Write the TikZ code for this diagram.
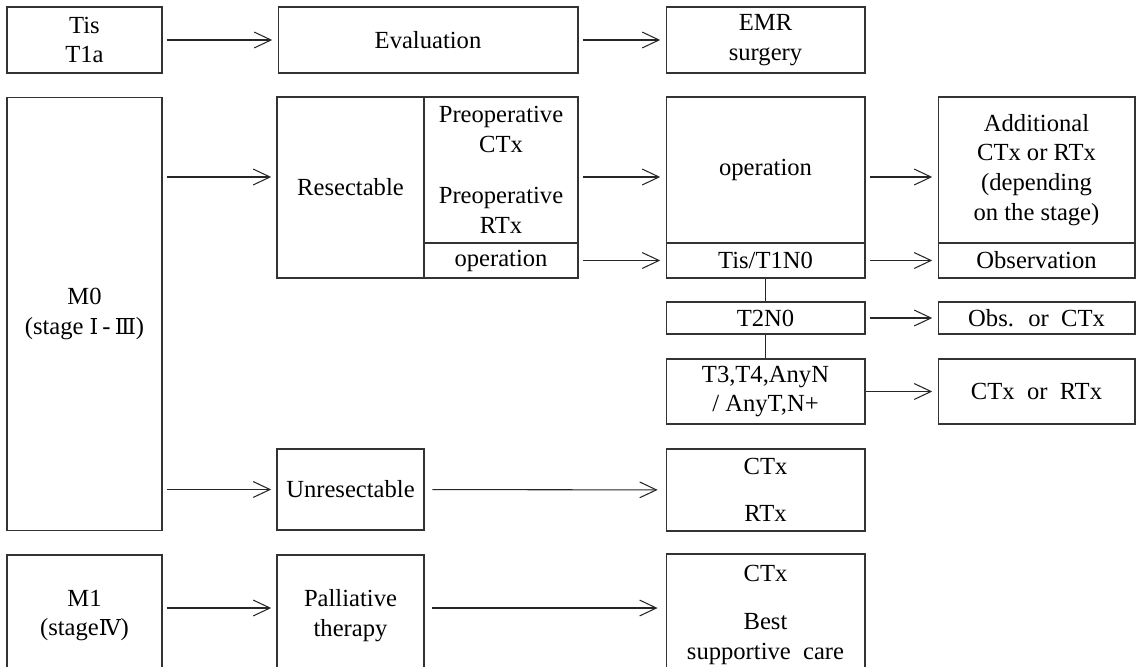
\documentclass[tikz,border=0pt]{standalone}
\usepackage{fontspec}
\setmainfont{Liberation Serif}
\newfontfamily\romfont{DejaVu Serif}
\usetikzlibrary{arrows.meta}
\newcommand{\rnum}[1]{{\romfont\fontsize{12.5}{14}\selectfont #1}}

\begin{document}
\begin{tikzpicture}[x=0.02cm, y=-0.02cm,
        box/.style={rectangle, draw=black!80, line width=0.6pt, inner sep=1pt,
                    align=center, font=\fontsize{14}{17}\selectfont},
        colA/.style={minimum width=3.1cm},
        colB/.style={minimum width=2.94cm},
        colC/.style={minimum width=3.08cm},
        colD/.style={minimum width=3.98cm},
        colE/.style={minimum width=3.94cm},
        arrow/.style={-{Straight Barb[length=9.5pt, width=9pt]}, line width=0.6pt,
                      black!85, shorten <=2.5pt, shorten >=3pt},
        link/.style={line width=0.6pt, black!85}
    ]
        \clip (0,0) rectangle (1138,666);

        % ligne du haut
        \node[box, colA, minimum height=1.32cm] (tis) at (84.5,40) {Tis\\T1a};
        \node[box, minimum width=6cm, minimum height=1.32cm] (eval) at (428,40) {Evaluation};
        \node[box, colD, minimum height=1.32cm] (emr) at (765.5,40) {EMR\\surgery};

        % M0
        \node[box, colA, minimum height=8.68cm] (m0) at (84.5,314)
            {M0\\(stage \rnum{Ⅰ}\,-\,\rnum{Ⅲ})};
        \node[box, colB, minimum height=3.62cm] (resect) at (350.5,187.5) {Resectable};
        \node[box, colC, minimum height=2.92cm] (preop) at (501,170)
            {Preoperative\\CTx\\[12pt]Preoperative\\RTx};
        \node[box, colC, minimum height=0.7cm] (preopop) at (501,260.5) {operation};

        \node[box, colD, minimum height=2.92cm] (oper) at (765.5,170) {operation};
        \node[box, colD, minimum height=0.7cm] (tisn) at (765.5,260.5) {Tis/T1N0};
        \node[box, colD, minimum height=0.64cm] (t2) at (765.5,318) {T2N0};
        \node[box, colD, minimum height=1.3cm] (t3) at (765.5,391.5)
            {T3,T4,AnyN\\/ AnyT,N+};

        \node[box, colE, minimum height=2.92cm] (addl) at (1036.5,170)
            {Additional\\CTx or RTx\\(depending\\on the stage)};
        \node[box, colE, minimum height=0.7cm] (obsv) at (1036.5,260.5) {Observation};
        \node[box, colE, minimum height=0.64cm] (obsct) at (1036.5,318) {Obs.~ or~ CTx};
        \node[box, colE, minimum height=1.3cm] (ctrt) at (1036.5,391.5) {CTx~ or~ RTx};

        \node[box, colB, minimum height=1.62cm] (unres) at (350.5,489.5) {Unresectable};
        \node[box, colD, minimum height=1.64cm] (ctrt2) at (765.5,490) {CTx\\[10pt]RTx};

        % M1
        \node[box, colA, minimum height=2.42cm] (m1) at (84.5,615.5)
            {M1\\(stage\rnum{Ⅳ})};
        \node[box, colB, minimum height=2.42cm] (pall) at (350.5,615.5)
            {Palliative\\therapy};
        \node[box, colD, minimum height=2.44cm] (bsc) at (765.5,615)
            {CTx\\[10pt]Best\\supportive~ care};

        \coordinate (lvl) at (0,177);
        \coordinate (lvlb) at (0,608);

        \draw[arrow] (tis) -- (eval);
        \draw[arrow] (eval) -- (emr);

        \draw[arrow] (m0.east |- lvl) -- (resect.west |- lvl);
        \draw[arrow] (preop.east |- lvl) -- (oper.west |- lvl);
        \draw[arrow] (oper.east |- lvl) -- (addl.west |- lvl);
        \draw[arrow] (preopop) -- (tisn);
        \draw[arrow] (tisn) -- (obsv);
        \draw[arrow] (t2) -- (obsct);
        \draw[arrow, shorten <=0pt] (t3) -- (ctrt);

        \draw[link] (tisn.south) -- (t2.north);
        \draw[link] (t2.south) -- (t3.north);

        \draw[arrow] (m0.east |- unres.west) -- (unres.west);
        \draw[arrow, shorten <=4.5pt, shorten >=4.5pt] (unres) -- (ctrt2);

        \draw[arrow] (m1.east |- lvlb) -- (pall.west |- lvlb);
        \draw[arrow, shorten <=4.5pt, shorten >=4.5pt] (pall.east |- lvlb) -- (bsc.west |- lvlb);
    \end{tikzpicture}
\end{document}
